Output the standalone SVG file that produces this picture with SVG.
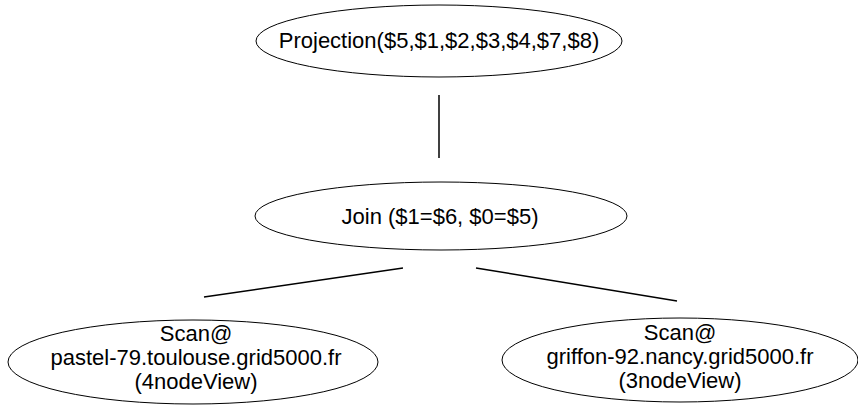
<svg xmlns="http://www.w3.org/2000/svg" width="858" height="405" viewBox="0 0 858 405">
<style>
.n{fill:#fff;stroke:#000;stroke-width:1}
.t{font-family:"Liberation Sans",Arial,sans-serif;font-size:22px;fill:#000;text-anchor:middle}
.e{stroke:#000;stroke-width:1.5;fill:none}
</style>
<rect width="858" height="405" fill="#fff"/>
<g id="connectors">
<line class="e" x1="439" y1="95" x2="439" y2="158"/>
<line class="e" x1="403" y1="268" x2="204" y2="297"/>
<line class="e" x1="476" y1="268" x2="677" y2="301"/>
</g>
<g id="projection">
<ellipse class="n" cx="439" cy="41" rx="183" ry="36"/>
<text class="t" x="439" y="48">Projection($5,$1,$2,$3,$4,$7,$8)</text>
</g>
<g id="join">
<ellipse class="n" cx="441" cy="216" rx="186" ry="34"/>
<text class="t" x="440" y="224">Join ($1=$6, $0=$5)</text>
</g>
<g id="scan1">
<ellipse class="n" cx="193" cy="362" rx="185" ry="42"/>
<text class="t" x="196" y="341">Scan@</text>
<text class="t" x="196" y="365">pastel-79.toulouse.grid5000.fr</text>
<text class="t" x="196" y="389">(4nodeView)</text>
</g>
<g id="scan2">
<ellipse class="n" cx="680" cy="360" rx="178" ry="42"/>
<text class="t" x="680" y="340">Scan@</text>
<text class="t" x="680" y="364">griffon-92.nancy.grid5000.fr</text>
<text class="t" x="680" y="388">(3nodeView)</text>
</g>
</svg>
